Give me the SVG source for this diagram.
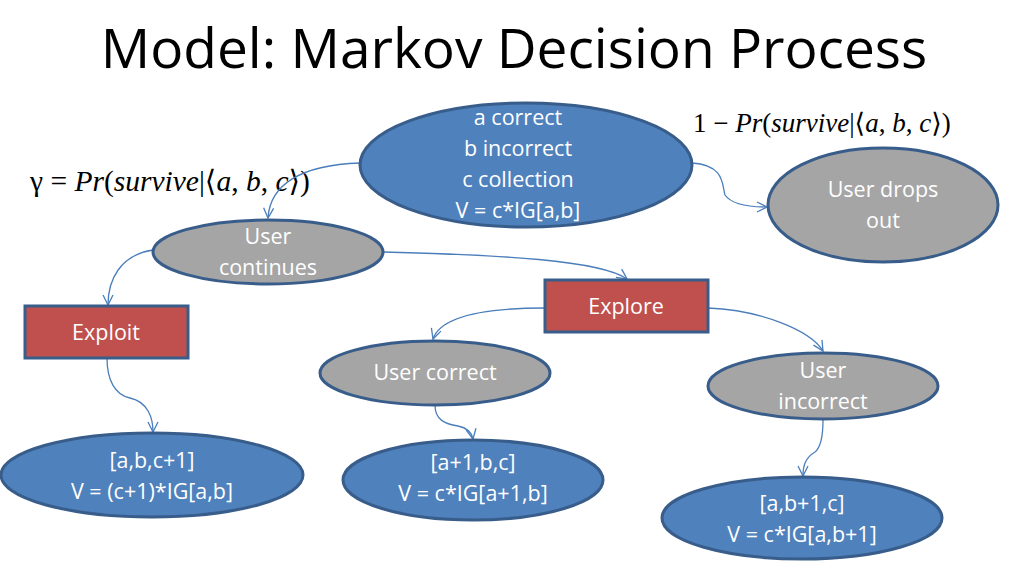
<svg xmlns="http://www.w3.org/2000/svg" width="1024" height="576" viewBox="0 0 1024 576">
<defs>
<marker id="arr" viewBox="0 0 12 12" refX="11" refY="6" markerWidth="12" markerHeight="12" markerUnits="userSpaceOnUse" orient="auto">
<path d="M1,1 L11,6 L1,11" fill="none" stroke="#4a7ebb" stroke-width="1.3"/>
</marker>
</defs>
<style>
.blue{fill:#4f81bd;stroke:#385d8a;stroke-width:3}
.gray{fill:#a5a5a5;stroke:#385d8a;stroke-width:3}
.red{fill:#c0504d;stroke:#385d8a;stroke-width:3}
.t{font-family:"Open Sans","Liberation Sans",sans-serif;font-size:21.5px;fill:#ffffff;text-anchor:middle}
.title{font-family:"Open Sans","Liberation Sans",sans-serif;font-size:55px;fill:#000000;text-anchor:middle}
.m{font-family:"Liberation Serif","DejaVu Serif",serif;font-size:27px;fill:#000000}
.m2{font-size:29.5px}
.c{fill:none;stroke:#4a7ebb;stroke-width:1.3;marker-end:url(#arr)}
</style>
<rect width="1024" height="576" fill="#ffffff"/>
<text class="title" x="514" y="68">Model: Markov Decision Process</text>
<text class="m m2" x="30" y="191">γ = <tspan font-style="italic">Pr</tspan>(<tspan font-style="italic">survive</tspan>|⟨<tspan font-style="italic">a</tspan>, <tspan font-style="italic">b</tspan>, <tspan font-style="italic">c</tspan>⟩)</text>
<text class="m" x="693" y="132">1 − <tspan font-style="italic">Pr</tspan>(<tspan font-style="italic">survive</tspan>|⟨<tspan font-style="italic">a</tspan>, <tspan font-style="italic">b</tspan>, <tspan font-style="italic">c</tspan>⟩)</text>
<g id="connectors">
<path class="c" d="M360,163 C300,165 270,185 268,218"/>
<path class="c" d="M692,163 C725,165 722,185 725,195 C732,205 750,207 767,207"/>
<path class="c" d="M153,250 C120,255 108,280 108,305"/>
<path class="c" d="M383,252 C500,255 600,260 627,279"/>
<path class="c" d="M545,308 C480,308 440,318 433,339"/>
<path class="c" d="M708,308 C760,310 810,330 823,351"/>
<path class="c" d="M107,358 C107,380 115,395 130,398 C148,402 153,418 153,432"/>
<path class="c" d="M435,405 C435,420 445,424 458,426 C468,428 472,434 473,439"/>
<path class="c" d="M823,420 C823,440 820,448 815,452 C805,458 803,466 803,476"/>
</g>
<g id="n-root"><ellipse class="blue" cx="526" cy="165" rx="166" ry="62"/>
<text class="t" x="518" y="125">a correct</text><text class="t" x="518" y="156">b incorrect</text><text class="t" x="518" y="187">c collection</text><text class="t" x="518" y="218">V = c*IG[a,b]</text></g>
<g id="n-drops"><ellipse class="gray" cx="883" cy="205" rx="115" ry="57"/>
<text class="t" x="883" y="197">User drops</text><text class="t" x="883" y="228">out</text></g>
<g id="n-continues"><ellipse class="gray" cx="268" cy="252" rx="115" ry="32"/>
<text class="t" x="268" y="244">User</text><text class="t" x="268" y="275">continues</text></g>
<g id="n-exploit"><rect class="red" x="25" y="306" width="163" height="52"/>
<text class="t" x="106" y="340">Exploit</text></g>
<g id="n-explore"><rect class="red" x="545" y="280" width="163" height="52"/>
<text class="t" x="626" y="314">Explore</text></g>
<g id="n-ucorrect"><ellipse class="gray" cx="435" cy="373" rx="115" ry="32"/>
<text class="t" x="435" y="380">User correct</text></g>
<g id="n-uincorrect"><ellipse class="gray" cx="823" cy="386" rx="115" ry="33"/>
<text class="t" x="823" y="378">User</text><text class="t" x="823" y="409">incorrect</text></g>
<g id="n-exploitres"><ellipse class="blue" cx="152" cy="475" rx="151" ry="42"/>
<text class="t" x="152" y="468">[a,b,c+1]</text><text class="t" x="152" y="499">V = (c+1)*IG[a,b]</text></g>
<g id="n-correctres"><ellipse class="blue" cx="473" cy="480" rx="130" ry="40"/>
<text class="t" x="473" y="470">[a+1,b,c]</text><text class="t" x="473" y="501">V = c*IG[a+1,b]</text></g>
<g id="n-incorrectres"><ellipse class="blue" cx="802" cy="518" rx="140" ry="41"/>
<text class="t" x="802" y="511">[a,b+1,c]</text><text class="t" x="802" y="542">V = c*IG[a,b+1]</text></g>
</svg>
